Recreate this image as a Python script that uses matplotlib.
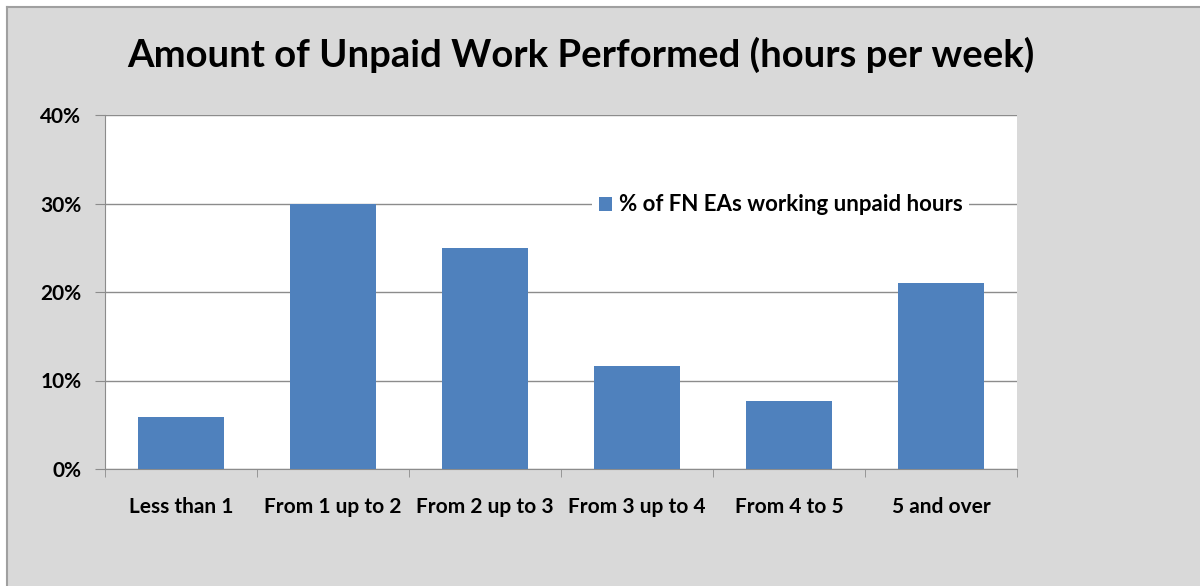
import matplotlib.pyplot as plt
from matplotlib.patches import Rectangle
from matplotlib.ticker import PercentFormatter
import numpy as np

categories = ["Less than 1", "From 1 up to 2", "From 2 up to 3",
              "From 3 up to 4", "From 4 to 5", "5 and over"]
values = [5.9, 30.0, 25.0, 11.6, 7.7, 21.0]
series_name = "% of FN EAs working unpaid hours"
title = "Amount of Unpaid Work Performed (hours per week)"

plt.rcParams['font.family'] = ['Lato', 'DejaVu Sans']
plt.rcParams['font.weight'] = 'bold'

fig = plt.figure(figsize=(12, 5.86), dpi=100)
fig.patch.set_facecolor('white')

# grey chart area with its border on top and left
W, H = 1200, 586
fig.patches.append(Rectangle((7 / W, 0), 1, 1 - 6 / H, transform=fig.transFigure,
                             facecolor='#d9d9d9', edgecolor='none', zorder=-5))
fig.add_artist(plt.Line2D([7 / W, 1], [1 - 7 / H, 1 - 7 / H], transform=fig.transFigure,
                          color='#a0a0a0', lw=1.5, zorder=-4))
fig.add_artist(plt.Line2D([7 / W, 7 / W], [0, 1 - 7 / H], transform=fig.transFigure,
                          color='#a0a0a0', lw=1.5, zorder=-4))

ax = fig.add_axes([105 / W, 1 - 469 / H, 912 / W, 354 / H])
ax.set_zorder(1)
ax.set_facecolor('white')

x = np.arange(len(categories))
ax.bar(x, values, width=0.56, color='#4f81bd', label=series_name, zorder=3)

ax.set_xlim(-0.5, len(categories) - 0.5)
ax.set_ylim(0, 40)
ax.set_yticks([0, 10, 20, 30, 40])
ax.yaxis.set_major_formatter(PercentFormatter(decimals=0))
ax.grid(axis='y', color='#8c8c8c', lw=1, zorder=1)

ax.set_xticks(x)
ax.set_xticklabels(categories, fontsize=15, fontweight='bold')
ax.set_xticks(np.arange(-0.5, len(categories), 1), minor=True)
ax.tick_params(axis='x', which='major', length=0, pad=20)
ax.tick_params(axis='x', which='minor', length=6, color='#8c8c8c')
ax.tick_params(axis='y', length=7, color='#8c8c8c', labelsize=15, pad=10)
for lab in ax.get_yticklabels():
    lab.set_fontweight('bold')

for side in ['top', 'right']:
    ax.spines[side].set_visible(False)
for side in ['left', 'bottom']:
    ax.spines[side].set_color('#8c8c8c')

leg = ax.legend(loc='center left', bbox_to_anchor=(0.534, 0.746), frameon=True,
                prop={'size': 16, 'weight': 'bold'}, handlelength=0.6,
                handleheight=0.6, handletextpad=0.3, borderpad=0.3,
                borderaxespad=0)
leg.get_frame().set_edgecolor('none')
leg.get_frame().set_facecolor('white')
leg.get_frame().set_alpha(1)

fig.text(581 / W, 1 - 55 / H, title, ha='center', va='center',
         fontsize=27.5, fontweight='bold')

fig.savefig('out.png', dpi=100)
